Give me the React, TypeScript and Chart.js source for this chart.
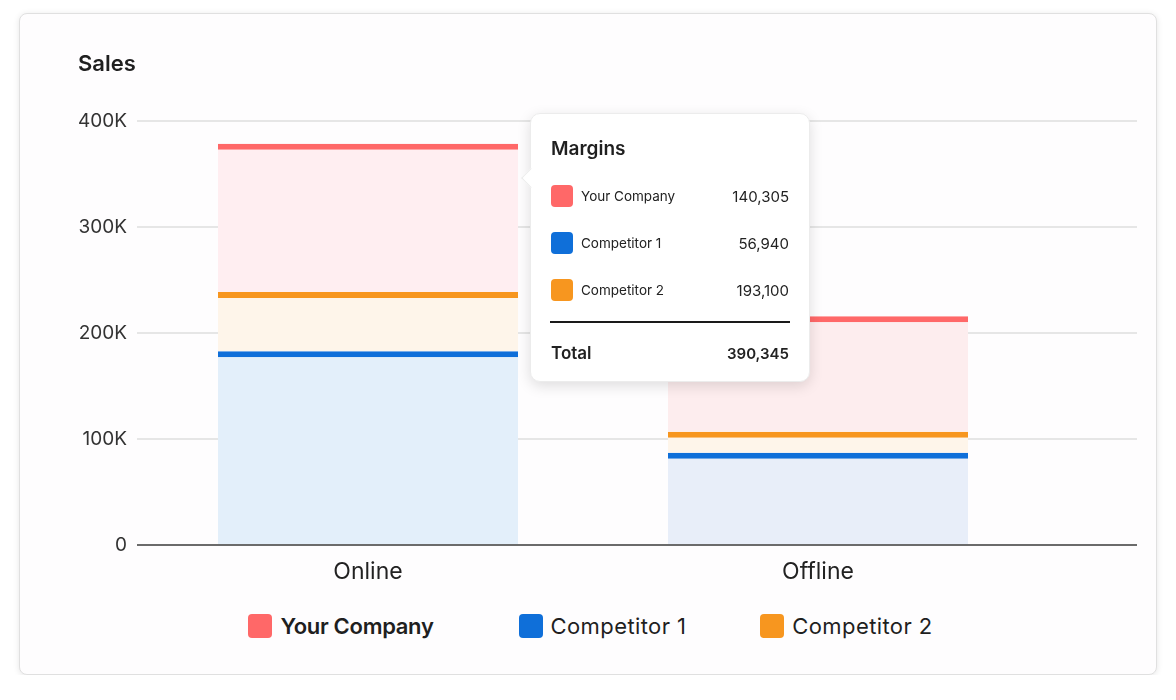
import React, { useEffect, useRef, useState } from "react";
import { Chart, registerables } from "chart.js";

Chart.register(...registerables);

// ---- data ----
const categories = ["Online", "Offline"];
const competitor1 = [183000, 87000];
const competitor2 = [56000, 20000];
const yourCompany = [140000, 109000];
const yMax = 400000;
const yStep = 100000;
const chartTitle = "Sales";
const legendLabels = ["Your Company", "Competitor 1", "Competitor 2"];
const tooltipTitle = "Margins";
const tooltipLabels = ["Your Company", "Competitor 1", "Competitor 2"];
const tooltipValues = [140305, 56940, 193100];
const tooltipTotalLabel = "Total";

// ---- styles ----
const FONT = "Inter, 'Noto Sans', sans-serif";
const RED = "#ff6868";
const BLUE = "#0f6fd9";
const ORANGE = "#f7961f";
const legendColors = [RED, BLUE, ORANGE];
const legendGaps = [0, 85, 74];
const GRID = "#e6e6e6";
const AXIS = "#6b6b6b";

const fmtTick = (v: number) => (v === 0 ? "0" : `${v / 1000}K`);

export default function App() {
  const canvasRef = useRef<HTMLCanvasElement | null>(null);
  const [tip, setTip] = useState<{ left: number; top: number } | null>(null);

  useEffect(() => {
    if (!canvasRef.current) return;
    const gridColor = (c: any) => (c.tick && c.tick.value === 0 ? AXIS : GRID);
    const chart = new Chart(canvasRef.current, {
      type: "bar",
      data: {
        labels: categories,
        datasets: [
          {
            label: "Competitor 1",
            data: competitor1,
            backgroundColor: ["#e3effa", "#e8eef9"],
            borderColor: BLUE,
            borderWidth: { top: 6, right: 0, bottom: 0, left: 0 },
            borderSkipped: "start",
          },
          {
            label: "Competitor 2",
            data: competitor2,
            backgroundColor: "#fef5ea",
            borderColor: ORANGE,
            borderWidth: { top: 6, right: 0, bottom: 0, left: 0 },
            borderSkipped: "start",
          },
          {
            label: "Your Company",
            data: yourCompany,
            backgroundColor: ["#ffeef1", "#fdedee"],
            borderColor: RED,
            borderWidth: { top: 6, right: 0, bottom: 0, left: 0 },
            borderSkipped: "start",
          },
        ],
      },
      options: {
        responsive: false,
        animation: false,
        events: [],
        layout: { padding: { top: 0, left: 58, right: 19, bottom: 14 } },
        datasets: { bar: { barPercentage: 1, categoryPercentage: 2 / 3 } },
        plugins: {
          legend: { display: false },
          tooltip: { enabled: false },
          title: {
            display: true,
            text: chartTitle,
            align: "start",
            color: "#1f1f1f",
            font: { family: FONT, size: 22, weight: "600" },
            padding: { top: 37, bottom: 44 },
          },
        },
        scales: {
          x: {
            stacked: true,
            offset: true,
            z: 1,
            grid: { display: false },
            border: { display: true, color: AXIS, width: 2 },
            ticks: { color: "#222", font: { family: FONT, size: 23 }, padding: 5 },
            afterFit: (s: any) => {
              s.height = 40;
            },
          },
          y: {
            stacked: true,
            min: 0,
            max: yMax,
            ticks: {
              stepSize: yStep,
              color: "#333",
              font: { family: FONT, size: 19 },
              padding: 10,
              callback: (v: any) => fmtTick(Number(v)),
            },
            grid: { color: gridColor, tickColor: gridColor, lineWidth: 2, tickLength: 6 },
            border: { display: false },
            afterFit: (s: any) => {
              s.width = 65;
            },
          },
          y2: {
            position: "right",
            min: 0,
            max: yMax,
            ticks: { stepSize: yStep, display: false },
            grid: {
              drawOnChartArea: false,
              color: gridColor,
              tickColor: gridColor,
              lineWidth: 2,
              tickLength: 94,
            },
            border: { display: false },
            afterFit: (s: any) => {
              s.width = 94;
            },
          },
        },
      },
    } as any);

    const meta = chart.getDatasetMeta(2);
    const bar: any = meta.data[0];
    const right = bar.x + bar.width / 2;
    const top = chart.scales.y.getPixelForValue(yMax);
    setTip({ left: right + 12, top: top - 8 });

    return () => chart.destroy();
  }, []);

  const total = tooltipValues.reduce((a, b) => a + b, 0);
  const rowTops = [83, 130, 177];

  return (
    <div
      style={{
        position: "relative",
        margin: "5px 0 0 11px",
        width: 1136,
        height: 660,
        border: "1px solid #e0e0e0",
        borderRadius: 8,
        background: "#fefdfe",
        boxShadow: "0 1px 6px rgba(0,0,0,0.10)",
        fontFamily: FONT,
      }}
    >
      <canvas
        ref={canvasRef}
        width={1136}
        height={585}
        style={{ position: "absolute", left: 0, top: 0, width: 1136, height: 585 }}
      />
      <div
        style={{
          position: "absolute",
          top: 600,
          left: 0,
          right: 0,
          height: 24,
          paddingLeft: 5,
          display: "flex",
          justifyContent: "center",
          alignItems: "center",
        }}
      >
        {legendLabels.map((l, i) => (
          <div key={l} style={{ display: "flex", alignItems: "center", marginLeft: legendGaps[i] }}>
            <div
              style={{
                width: 24,
                height: 24,
                borderRadius: 4,
                background: legendColors[i],
                marginRight: 8,
              }}
            />
            <span
              style={{
                fontSize: 22,
                lineHeight: "24px",
                color: "#1f1f1f",
                fontWeight: i === 0 ? 600 : 400,
                letterSpacing: i === 0 ? -0.3 : 0.4,
              }}
            >
              {l}
            </span>
          </div>
        ))}
      </div>
      {tip && (
        <div
          style={{
            position: "absolute",
            left: tip.left,
            top: tip.top,
            width: 280,
            height: 269,
            boxSizing: "border-box",
            background: "#fff",
            borderRadius: 10,
            border: "1px solid #ececec",
            boxShadow: "0 4px 14px rgba(0,0,0,0.13)",
            color: "#222",
          }}
        >
          <div
            style={{
              position: "absolute",
              left: -7,
              top: 57,
              width: 13,
              height: 13,
              background: "#fff",
              transform: "rotate(45deg)",
              borderLeft: "1px solid #ececec",
              borderBottom: "1px solid #ececec",
            }}
          />
          <div
            style={{
              position: "absolute",
              left: 20,
              top: 22,
              fontSize: 19,
              fontWeight: 600,
              lineHeight: "26px",
              color: "#1f1f1f",
            }}
          >
            {tooltipTitle}
          </div>
          {tooltipLabels.map((l, i) => (
            <div
              key={l}
              style={{
                position: "absolute",
                left: 20,
                right: 20,
                top: rowTops[i] - 13,
                height: 24,
                display: "flex",
                alignItems: "center",
              }}
            >
              <div
                style={{ width: 22, height: 22, borderRadius: 4, background: legendColors[i], marginRight: 8 }}
              />
              <span style={{ fontSize: 13.5, flex: 1 }}>{l}</span>
              <span style={{ fontSize: 15 }}>{tooltipValues[i].toLocaleString("en-US")}</span>
            </div>
          ))}
          <div
            style={{
              position: "absolute",
              left: 19,
              width: 240,
              top: 207,
              height: 2,
              background: "#1a1a1a",
            }}
          />
          <div
            style={{
              position: "absolute",
              left: 20,
              right: 20,
              top: 239 - 12,
              height: 24,
              display: "flex",
              alignItems: "center",
            }}
          >
            <span style={{ fontSize: 17, fontWeight: 600, flex: 1 }}>{tooltipTotalLabel}</span>
            <span style={{ fontSize: 15, fontWeight: 600 }}>{total.toLocaleString("en-US")}</span>
          </div>
        </div>
      )}
    </div>
  );
}
